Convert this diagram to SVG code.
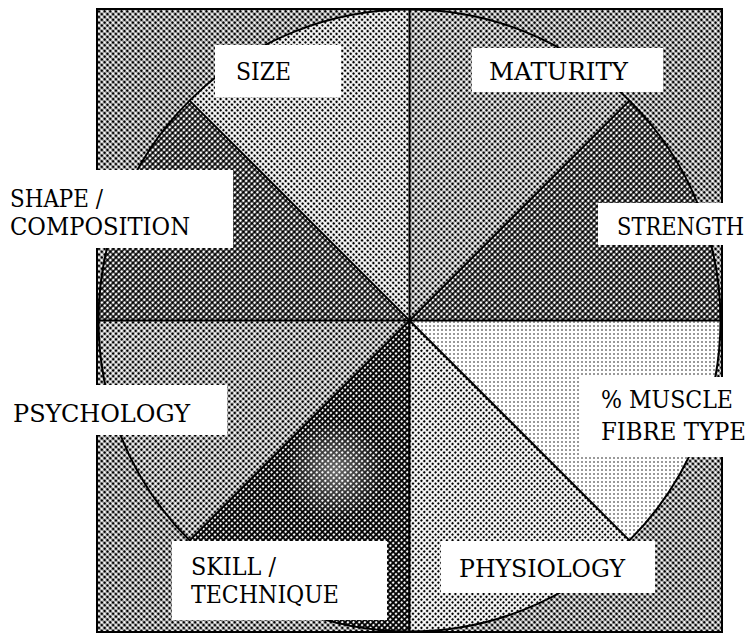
<svg xmlns="http://www.w3.org/2000/svg" width="756" height="634" viewBox="0 0 756 634">
<style>
.lbl{fill:#fff}
.ln{stroke:#000;stroke-width:2;fill:none}
.t{font-family:"DejaVu Serif","Liberation Serif","Times New Roman",serif;font-size:24.5px;fill:#000}
</style>
<defs>
<pattern id="p50" width="4" height="4" patternUnits="userSpaceOnUse" patternTransform="rotate(45)"><rect width="4" height="4" fill="#fff"/><circle cx="2" cy="2" r="1.6" fill="#000"/></pattern>
<pattern id="p45" width="4" height="4" patternUnits="userSpaceOnUse" patternTransform="rotate(45)"><rect width="4" height="4" fill="#fff"/><circle cx="2" cy="2" r="1.48" fill="#000"/></pattern>
<pattern id="p35" width="4" height="4" patternUnits="userSpaceOnUse" patternTransform="rotate(45)"><rect width="4" height="4" fill="#fff"/><circle cx="2" cy="2" r="1.34" fill="#000"/></pattern>
<pattern id="p30" width="4" height="4" patternUnits="userSpaceOnUse" patternTransform="rotate(45)"><rect width="4" height="4" fill="#fff"/><circle cx="2" cy="2" r="1.22" fill="#000"/></pattern>
<pattern id="p12" width="4" height="4" patternUnits="userSpaceOnUse"><rect width="4" height="4" fill="#fff"/><circle cx="2" cy="2" r="0.75" fill="#000"/></pattern>
<pattern id="p62" width="4" height="4" patternUnits="userSpaceOnUse" patternTransform="rotate(45)"><rect width="4" height="4" fill="#000"/><circle cx="2" cy="2" r="1.39" fill="#fff"/></pattern>
<pattern id="p72" width="4" height="4" patternUnits="userSpaceOnUse" patternTransform="rotate(45)"><rect width="4" height="4" fill="#000"/><circle cx="2" cy="2" r="1.19" fill="#fff"/></pattern>
<radialGradient id="blotch" cx="335" cy="470" r="50" gradientUnits="userSpaceOnUse">
<stop offset="0" stop-color="#fff" stop-opacity="0.4"/>
<stop offset="1" stop-color="#fff" stop-opacity="0"/>
</radialGradient>
</defs>
<rect width="756" height="634" fill="#fff"/>
<g id="frame">
<rect x="97" y="9" width="625" height="623" fill="url(#p50)" stroke="#000" stroke-width="2"/>
</g>
<g id="sector-maturity"><path d="M409.5 320.5 L409.5 9.5 A311 311 0 0 1 629.4 100.6 Z" fill="url(#p45)"/></g>
<g id="sector-strength"><path d="M409.5 320.5 L629.4 100.6 A311 311 0 0 1 720.5 320.5 Z" fill="url(#p62)"/></g>
<g id="sector-muscle"><path d="M409.5 320.5 L720.5 320.5 A311 311 0 0 1 629.4 540.4 Z" fill="url(#p12)"/></g>
<g id="sector-physiology"><path d="M409.5 320.5 L629.4 540.4 A311 311 0 0 1 409.5 631.5 Z" fill="url(#p30)"/></g>
<g id="sector-skill"><path d="M409.5 320.5 L409.5 631.5 A311 311 0 0 1 189.6 540.4 Z" fill="url(#p72)"/><path d="M409.5 320.5 L409.5 631.5 A311 311 0 0 1 189.6 540.4 Z" fill="url(#blotch)"/></g>
<g id="sector-psychology"><path d="M409.5 320.5 L189.6 540.4 A311 311 0 0 1 98.5 320.5 Z" fill="url(#p45)"/></g>
<g id="sector-shape"><path d="M409.5 320.5 L98.5 320.5 A311 311 0 0 1 189.6 100.6 Z" fill="url(#p62)"/></g>
<g id="sector-size"><path d="M409.5 320.5 L189.6 100.6 A311 311 0 0 1 409.5 9.5 Z" fill="url(#p35)"/></g>
<g id="connectors">
<circle class="ln" cx="409.5" cy="320.5" r="311"/>
<line class="ln" x1="409.5" y1="9" x2="409.5" y2="632"/>
<line class="ln" x1="97" y1="320.5" x2="722" y2="320.5"/>
<line class="ln" x1="189.6" y1="100.6" x2="629.4" y2="540.4"/>
<line class="ln" x1="629.4" y1="100.6" x2="189.6" y2="540.4"/>
</g>
<g id="label-size"><rect class="lbl" x="215" y="45" width="126" height="52"/><text class="t" x="236" y="80" textLength="55" lengthAdjust="spacingAndGlyphs">SIZE</text></g>
<g id="label-maturity"><rect class="lbl" x="472" y="48" width="191" height="44"/><text class="t" x="489" y="80" textLength="139" lengthAdjust="spacingAndGlyphs">MATURITY</text></g>
<g id="label-strength"><rect class="lbl" x="598" y="203" width="158" height="42"/><text class="t" x="617" y="235" font-size="22.5" textLength="127" lengthAdjust="spacingAndGlyphs">STRENGTH</text></g>
<g id="label-muscle"><rect class="lbl" x="580" y="377" width="176" height="80"/><text class="t" x="601" y="408" textLength="132" lengthAdjust="spacingAndGlyphs">% MUSCLE</text><text class="t" x="601" y="440" textLength="145" lengthAdjust="spacingAndGlyphs">FIBRE TYPE</text></g>
<g id="label-physiology"><rect class="lbl" x="441" y="541" width="214" height="52"/><text class="t" x="459" y="577" textLength="166" lengthAdjust="spacingAndGlyphs">PHYSIOLOGY</text></g>
<g id="label-skill"><rect class="lbl" x="172" y="541" width="215" height="79"/><text class="t" x="191" y="575" textLength="85" lengthAdjust="spacingAndGlyphs">SKILL /</text><text class="t" x="191" y="603" textLength="148" lengthAdjust="spacingAndGlyphs">TECHNIQUE</text></g>
<g id="label-psychology"><rect class="lbl" x="0" y="385" width="227" height="50"/><text class="t" x="13" y="422" textLength="177" lengthAdjust="spacingAndGlyphs">PSYCHOLOGY</text></g>
<g id="label-shape"><rect class="lbl" x="0" y="170" width="233" height="78"/><text class="t" x="10" y="207" textLength="93" lengthAdjust="spacingAndGlyphs">SHAPE /</text><text class="t" x="10" y="235" textLength="180" lengthAdjust="spacingAndGlyphs">COMPOSITION</text></g>
</svg>
